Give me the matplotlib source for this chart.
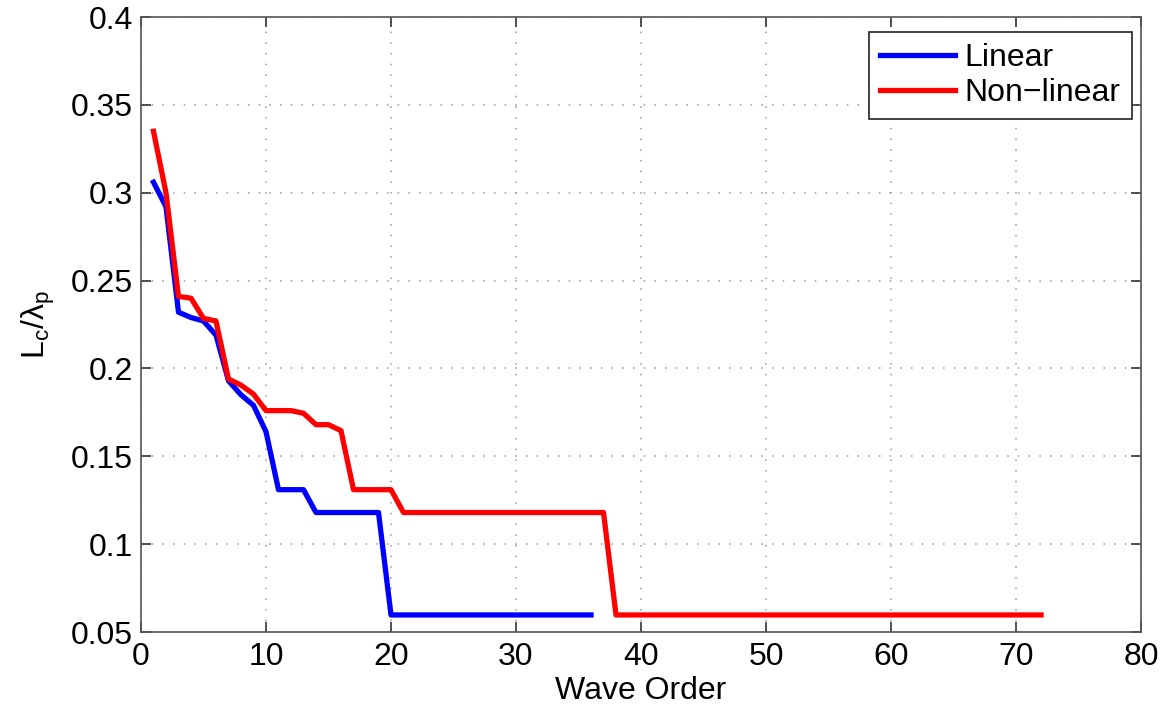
import matplotlib
matplotlib.use('Agg')
import matplotlib.pyplot as plt

plt.rcParams['font.family'] = ['Liberation Sans', 'DejaVu Sans']
plt.rcParams['mathtext.fontset'] = 'custom'
plt.rcParams['mathtext.rm'] = 'Liberation Sans'
plt.rcParams['mathtext.it'] = 'Liberation Sans'

# Critical length over peak wavelength against wave order
linear_order = list(range(1, 37))
linear_ratio = [0.306, 0.292, 0.232, 0.229, 0.227, 0.219, 0.193, 0.185, 0.179, 0.164,
                0.131, 0.131, 0.131, 0.118, 0.118, 0.118, 0.118, 0.118, 0.118] + [0.0597] * 17

nonlinear_order = list(range(1, 73))
nonlinear_ratio = [0.335, 0.300, 0.241, 0.240, 0.2285, 0.227, 0.194, 0.1905, 0.1854, 0.176,
                   0.176, 0.176, 0.1745, 0.168, 0.168, 0.1646, 0.131, 0.131, 0.131, 0.131] \
                  + [0.118] * 17 + [0.0597] * 35

FS = 23

fig = plt.figure(figsize=(11.69, 7.13), dpi=100)
ax = fig.add_axes([0.1206, 0.1136, 0.8555, 0.8625])

ax.plot(linear_order, linear_ratio, color='#0000ff', lw=3.8, label='Linear')
ax.plot(nonlinear_order, nonlinear_ratio, color='#ff0000', lw=3.8, label='Non\u2212linear')

ax.set_xlim(0, 80)
ax.set_ylim(0.05, 0.4)
ax.set_xticks(range(0, 81, 10))
ax.set_yticks([0.05, 0.1, 0.15, 0.2, 0.25, 0.3, 0.35, 0.4])
ax.set_yticklabels(['0.05', '0.1', '0.15', '0.2', '0.25', '0.3', '0.35', '0.4'])

ax.grid(True, linestyle=(0, (1, 6)), color='#999999', lw=1.1)
ax.tick_params(direction='in', top=True, right=True, length=7, width=1.2,
               color='#333333', labelsize=FS)
ax.tick_params(axis='y', pad=6)
ax.tick_params(axis='x', pad=7)
for s in ax.spines.values():
    s.set_color('#555555')
    s.set_linewidth(1.2)

ax.set_xlabel('Wave Order', fontsize=FS, labelpad=3)
ax.set_ylabel(r'$\mathregular{L_c/\lambda_p}$', fontsize=FS, labelpad=10)

leg = ax.legend(loc='upper right', bbox_to_anchor=(1132 / 1169, 1 - 32 / 713),
                bbox_transform=fig.transFigure, borderaxespad=0,
                fontsize=FS, frameon=True, fancybox=False,
                edgecolor='#222222', framealpha=1,
                handlelength=2.35, handletextpad=0.3, borderpad=0.35, labelspacing=0.15)
leg.get_frame().set_linewidth(1.2)

fig.savefig('out.png', dpi=100)
